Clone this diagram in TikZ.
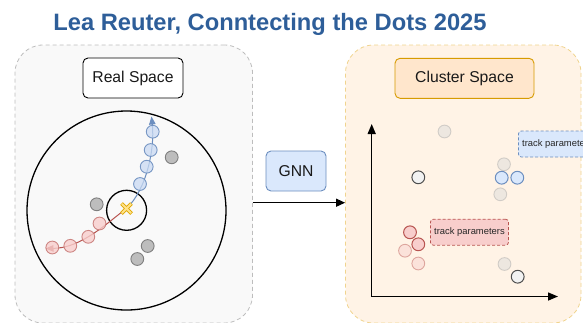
\documentclass[tikz,border=0pt]{standalone}
\usepackage{fontspec}
\setmainfont{Liberation Sans}
\usetikzlibrary{arrows.meta}

\definecolor{titleblue}{HTML}{2E5E99}
\definecolor{realfill}{HTML}{F9F9F9}
\definecolor{realline}{HTML}{BDBDBD}
\definecolor{clusfill}{HTML}{FFF3E6}
\definecolor{clusline}{HTML}{F0D48E}
\definecolor{orfill}{HTML}{FFE6CC}
\definecolor{orline}{HTML}{D79B00}
\definecolor{bfill}{HTML}{DAE8FC}
\definecolor{bline}{HTML}{6C8EBF}
\definecolor{rfill}{HTML}{F8CECC}
\definecolor{rline}{HTML}{B85450}
\definecolor{gfill}{HTML}{BDBDBD}
\definecolor{gline}{HTML}{7F7F7F}
\definecolor{dline}{HTML}{4D4D4D}
\definecolor{xout}{HTML}{E0A800}
\definecolor{xin}{HTML}{FFE28A}

\tikzset{
  panel/.style={rectangle, rounded corners=28pt, dashed, dash pattern=on 4pt off 3pt,
    line width=0.8pt, inner sep=0pt},
  labelbox/.style={rectangle, rounded corners=5pt, minimum height=40pt, line width=0.9pt,
    inner sep=0pt, font=\fontsize{15.7}{18}\selectfont, text=black!90},
  hit/.style={circle, minimum size=12.8pt, inner sep=0pt, line width=0.9pt},
  bluehit/.style={hit, fill=bfill!85!bline, draw=bline, fill opacity=0.75, draw opacity=0.9},
  redhit/.style={hit, fill=rfill, draw=rline!80, fill opacity=0.8, draw opacity=0.85},
  grayhit/.style={hit, fill=gfill, draw=gline},
  faint/.style={hit, fill=white!85!black, draw=black!35, opacity=0.45},
  darkhit/.style={hit, fill=white!95!black, draw=dline, line width=1pt},
  strongblue/.style={hit, fill=bfill, draw=bline, line width=1pt},
  strongred/.style={hit, fill=rfill, draw=rline, line width=1pt},
  faintred/.style={hit, fill=rfill, draw=rline, opacity=0.45},
  tparam/.style={rectangle, rounded corners=3pt, dashed, dash pattern=on 3pt off 2pt,
    line width=0.8pt, minimum height=26pt, inner xsep=3.8pt, inner ysep=0pt,
    font=\fontsize{9.4}{11}\selectfont, text=black!85, anchor=west},
  track/.style={line width=1pt},
  axis/.style={line width=1.4pt, {Triangle[length=10pt,width=8pt]}-{Triangle[length=10pt,width=8pt]}},
}

\begin{document}
\begin{tikzpicture}[x=1pt,y=-1pt]
\useasboundingbox (0,0) rectangle (583,322);
\clip (0,0) rectangle (583,322);

% title
\node[anchor=base, inner sep=0pt, text=titleblue,
  font=\bfseries\fontsize{23.7}{28}\selectfont] (title) at (270,30.7)
  {Lea Reuter, Conntecting the Dots 2025};

% the two spaces
\node[panel, fill=realfill, draw=realline, minimum width=237.5pt, minimum height=278pt]
  (real) at (133.75,184) {};
\node[panel, fill=clusfill, draw=clusline, minimum width=235.5pt, minimum height=278pt]
  (clus) at (463.25,184) {};

\node[labelbox, fill=white, draw=black, minimum width=100pt] (reallbl) at (133,78) {Real Space};
\node[labelbox, fill=orfill, draw=orline, minimum width=139pt] (cluslbl) at (464.5,78.3) {Cluster Space};

% GNN step and flow arrow
\node[labelbox, fill=bfill, draw=bline, minimum width=60pt] (gnn) at (296,171) {GNN};
\coordinate (flow) at (0,202.7);
\draw[line width=1.2pt, -{Triangle[length=9pt,width=8pt]}] (real.east |- flow) -- (clus.west |- flow);

% detector: outer boundary and interaction region
\node[circle, draw, line width=1.3pt, minimum size=199pt, inner sep=0pt] (det) at (126.5,210.5) {};
\node[circle, draw, line width=1.3pt, minimum size=40pt, inner sep=0pt] (ipr) at (126.6,210.3) {};
\node[inner sep=0pt, minimum size=0pt] (vtx) at (126.5,208.5) {};
\coordinate (btip) at (151.5,116.5);
\coordinate (rtip) at (45.5,248.5);

% tracks
\draw[track, draw=bline, -{Triangle[length=8pt,width=6.5pt]}]
  (vtx.center) .. controls (146,190) and (155,150) .. (btip);
\draw[track, draw=rline, -{Triangle[length=8pt,width=6.5pt]}]
  (vtx.center) .. controls (108,222) and (82,248) .. (rtip);

% hits in real space
\node[bluehit] (b1) at (140,184) {};
\node[bluehit] (b2) at (146.7,166.7) {};
\node[bluehit] (b3) at (150.7,150) {};
\node[bluehit] (b4) at (152.7,131.7) {};
\node[redhit] (r1) at (99.5,223.5) {};
\node[redhit] (r2) at (88.3,236.8) {};
\node[redhit] (r3) at (70.3,245.8) {};
\node[redhit] (r4) at (52.3,247.5) {};
\node[grayhit] (g1) at (171.7,157.3) {};
\node[grayhit] (g2) at (96.7,204.3) {};
\node[grayhit] (g3) at (147.7,246) {};
\node[grayhit] (g4) at (137.3,259) {};

% primary vertex
\draw[line width=3.6pt, draw=xout] (vtx.center) +(-5,-5) -- +(5,5) (vtx.center) +(-5,5) -- +(5,-5);
\draw[line width=1.9pt, draw=xin] (vtx.center) +(-4.6,-4.6) -- +(4.6,4.6) (vtx.center) +(-4.6,4.6) -- +(4.6,-4.6);

% cluster space axes
\coordinate (orig) at (371.7,296.5);
\coordinate (ytop) at (371.7,124);
\coordinate (xend) at (558,296.5);
\draw[axis] (ytop) -- (orig) -- (xend);

% embedded hits
\node[faint] (c1) at (444.5,131.5) {};
\node[darkhit] (c2) at (418.3,177.3) {};
\node[faint] (c3) at (504,164.3) {};
\node[faint] (c4) at (500.3,194.3) {};
\node[strongblue] (c5) at (501.7,177.7) {};
\node[strongblue] (c6) at (517.3,177.7) {};
\node[faintred] (c7) at (405,250.7) {};
\node[faintred] (c8) at (418.3,263.5) {};
\node[strongred] (c9) at (410,232.3) {};
\node[strongred] (c10) at (418.3,244.3) {};
\node[faint] (c11) at (504.5,264) {};
\node[darkhit] (c12) at (517.7,276.7) {};

% fitted track parameters
\node[tparam, fill=rfill, draw=rline] (tpred) at (430,232.2) {track parameters};
\node[tparam, fill=bfill, draw=bline] (tpblue) at (518,144) {track parameters};
\end{tikzpicture}
\end{document}
